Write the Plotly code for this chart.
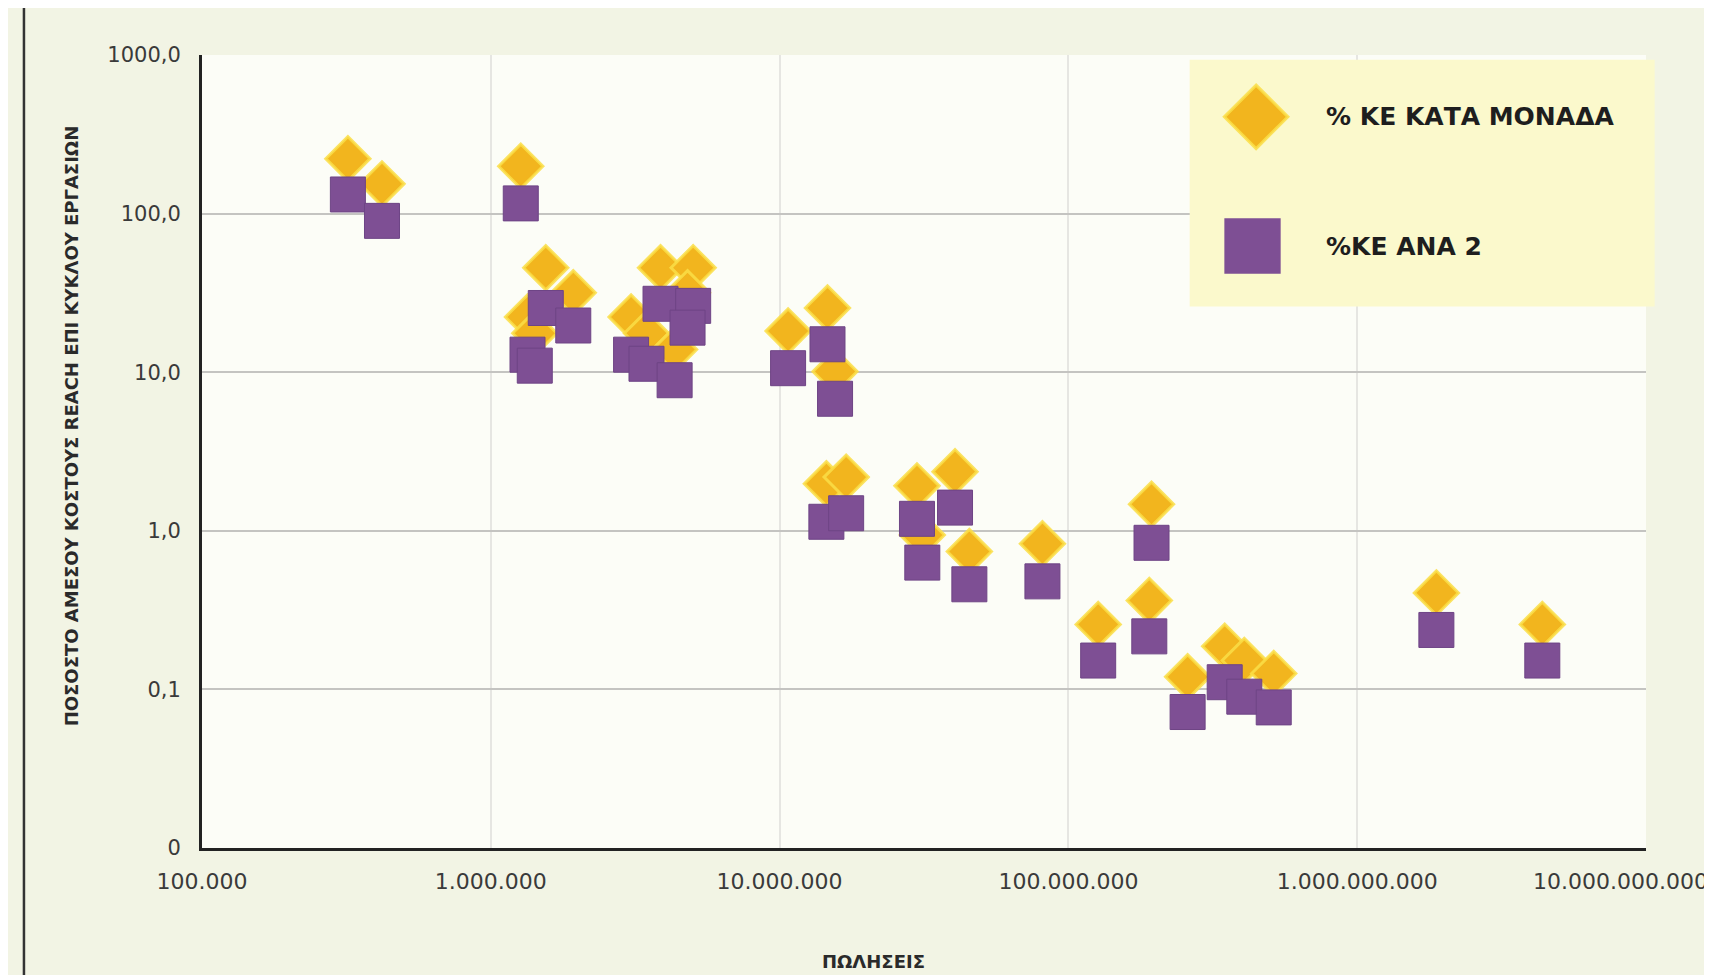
import plotly.graph_objects as go

# ---- data ----
sales = [320000, 420000, 1270000, 1550000, 1930000, 1340000, 1420000, 3060000,
         3460000, 3870000, 4330000, 5020000, 4800000, 10700000, 14650000, 15560000,
         14520000, 17000000, 29900000, 31200000, 40500000, 45400000, 81300000,
         126800000, 194000000, 190600000, 258700000, 347700000, 406500000,
         514000000, 1880000000, 4375000000]
pct_unit = [222, 154, 199, 45.6, 31.7, 22.3, 17.6, 22.3, 17.6, 45.6, 13.9, 45.6,
            31.7, 18.2, 25.4, 10.1, 1.98, 2.18, 1.92, 0.94, 2.36, 0.74, 0.83,
            0.257, 1.47, 0.364, 0.120, 0.187, 0.152, 0.126, 0.406, 0.257]
pct_ana2 = [132, 90, 116, 25.4, 19.7, 12.9, 11.0, 12.9, 11.3, 27.0, 8.9, 26.2,
            19.1, 10.6, 15.0, 6.8, 1.14, 1.29, 1.19, 0.63, 1.40, 0.46, 0.48,
            0.152, 0.84, 0.216, 0.072, 0.111, 0.090, 0.077, 0.237, 0.152]

series_names = ["% ΚΕ ΚΑΤΑ ΜΟΝΑΔΑ", "%ΚΕ ΑΝΑ 2"]

x_tickvals = [1e5, 1e6, 1e7, 1e8, 1e9, 1e10]
x_ticktext = ["100.000", "1.000.000", "10.000.000", "100.000.000",
              "1.000.000.000", "10.000.000.000"]
y_tickvals = [0.01, 0.1, 1, 10, 100, 1000]
y_ticktext = ["0", "0,1", "1,0", "10,0", "100,0", "1000,0"]

x_title = "ΠΩΛΗΣΕΙΣ"
y_title = "ΠΟΣΟΣΤΟ ΑΜΕΣΟΥ ΚΟΣΤΟΥΣ REACH ΕΠΙ ΚΥΚΛΟΥ ΕΡΓΑΣΙΩΝ"

GOLD = "#F2B51E"
GLOW = "rgba(250,222,70,0.85)"
PURPLE = "#7E4F94"
TICKCOL = "#3a3a3a"

fig = go.Figure()
fig.add_trace(go.Scatter(
    x=sales, y=pct_unit, mode="markers", name=series_names[0],
    marker=dict(symbol="diamond", size=34, color=GOLD,
                line=dict(color=GLOW, width=3)),
    showlegend=False))
fig.add_trace(go.Scatter(
    x=sales, y=pct_ana2, mode="markers", name=series_names[1],
    marker=dict(symbol="square", size=35, color=PURPLE,
                line=dict(color="#6E4485", width=1)),
    showlegend=False))

xtickfont = dict(family="DejaVu Sans", size=22, color=TICKCOL)
ytickfont = dict(family="DejaVu Sans", size=21, color=TICKCOL)

# the last x label sits at the right page edge: drawn as a right-anchored note
x_ticktext_axis = x_ticktext[:-1] + [""]

fig.update_xaxes(type="log", range=[5, 10], tickvals=x_tickvals, ticktext=x_ticktext_axis,
                 tickfont=xtickfont, showgrid=True, gridcolor="#e6e6e2", gridwidth=1.5,
                 showline=True, linecolor="#222222", linewidth=3, zeroline=False,
                 ticks="", ticklabelstandoff=12, automargin=False)
fig.update_yaxes(type="log", range=[-2, 3], tickvals=y_tickvals, ticktext=y_ticktext,
                 tickfont=ytickfont, showgrid=True, gridcolor="#c4c4c1", gridwidth=2,
                 showline=True, linecolor="#222222", linewidth=3, zeroline=False,
                 ticks="", ticklabelstandoff=14, automargin=False)

# custom legend panel (large symbols)
shapes = [
    dict(type="rect", xref="paper", yref="paper", x0=0.684, x1=1.006, y0=0.683, y1=0.994,
         fillcolor="#FBF9CC", line=dict(width=0), layer="above"),
    dict(type="path", xref="paper", yref="paper",
         path="M 0.730,0.962 L 0.752,0.922 L 0.730,0.882 L 0.708,0.922 Z",
         fillcolor=GOLD, line=dict(color=GLOW, width=3), layer="above"),
    dict(type="rect", xref="paper", yref="paper", x0=0.708, x1=0.747, y0=0.724, y1=0.794,
         fillcolor=PURPLE, line=dict(width=0), layer="above"),
    dict(type="line", xref="paper", yref="paper", x0=-0.1233, x1=-0.1233, y0=-0.25, y1=1.1,
         line=dict(color="#333333", width=2.5)),
]

annotations = [
    dict(text="<b>" + series_names[0] + "</b>", xref="paper", yref="paper",
         x=0.777, y=0.922, xanchor="left", yanchor="middle", showarrow=False,
         font=dict(family="DejaVu Sans", size=25, color="#1e1e1e")),
    dict(text="<b>" + series_names[1] + "</b>", xref="paper", yref="paper",
         x=0.777, y=0.759, xanchor="left", yanchor="middle", showarrow=False,
         font=dict(family="DejaVu Sans", size=25, color="#1e1e1e")),
    dict(text="<b>" + y_title + "</b>", xref="paper", yref="paper",
         x=-0.0906, y=0.532, xanchor="center", yanchor="middle", textangle=-90,
         showarrow=False, font=dict(family="DejaVu Sans", size=18, color="#2a2a2a")),
    dict(text="<b>" + x_title + "</b>", xref="paper", yref="paper",
         x=0.465, y=-0.1425, xanchor="center", yanchor="middle",
         showarrow=False, font=dict(family="DejaVu Sans", size=18, color="#2a2a2a")),
    dict(text=x_ticktext[-1], xref="paper", yref="paper",
         x=1.0445, y=-0.042, xanchor="right", yanchor="middle",
         showarrow=False, font=xtickfont),
]

fig.update_layout(
    width=1712, height=975,
    margin=dict(l=194, r=74, t=47, b=135),
    paper_bgcolor="#F2F4E4",
    plot_bgcolor="#FCFDF7",
    shapes=shapes,
    annotations=annotations,
    showlegend=False,
)

fig.write_html("out.html")
